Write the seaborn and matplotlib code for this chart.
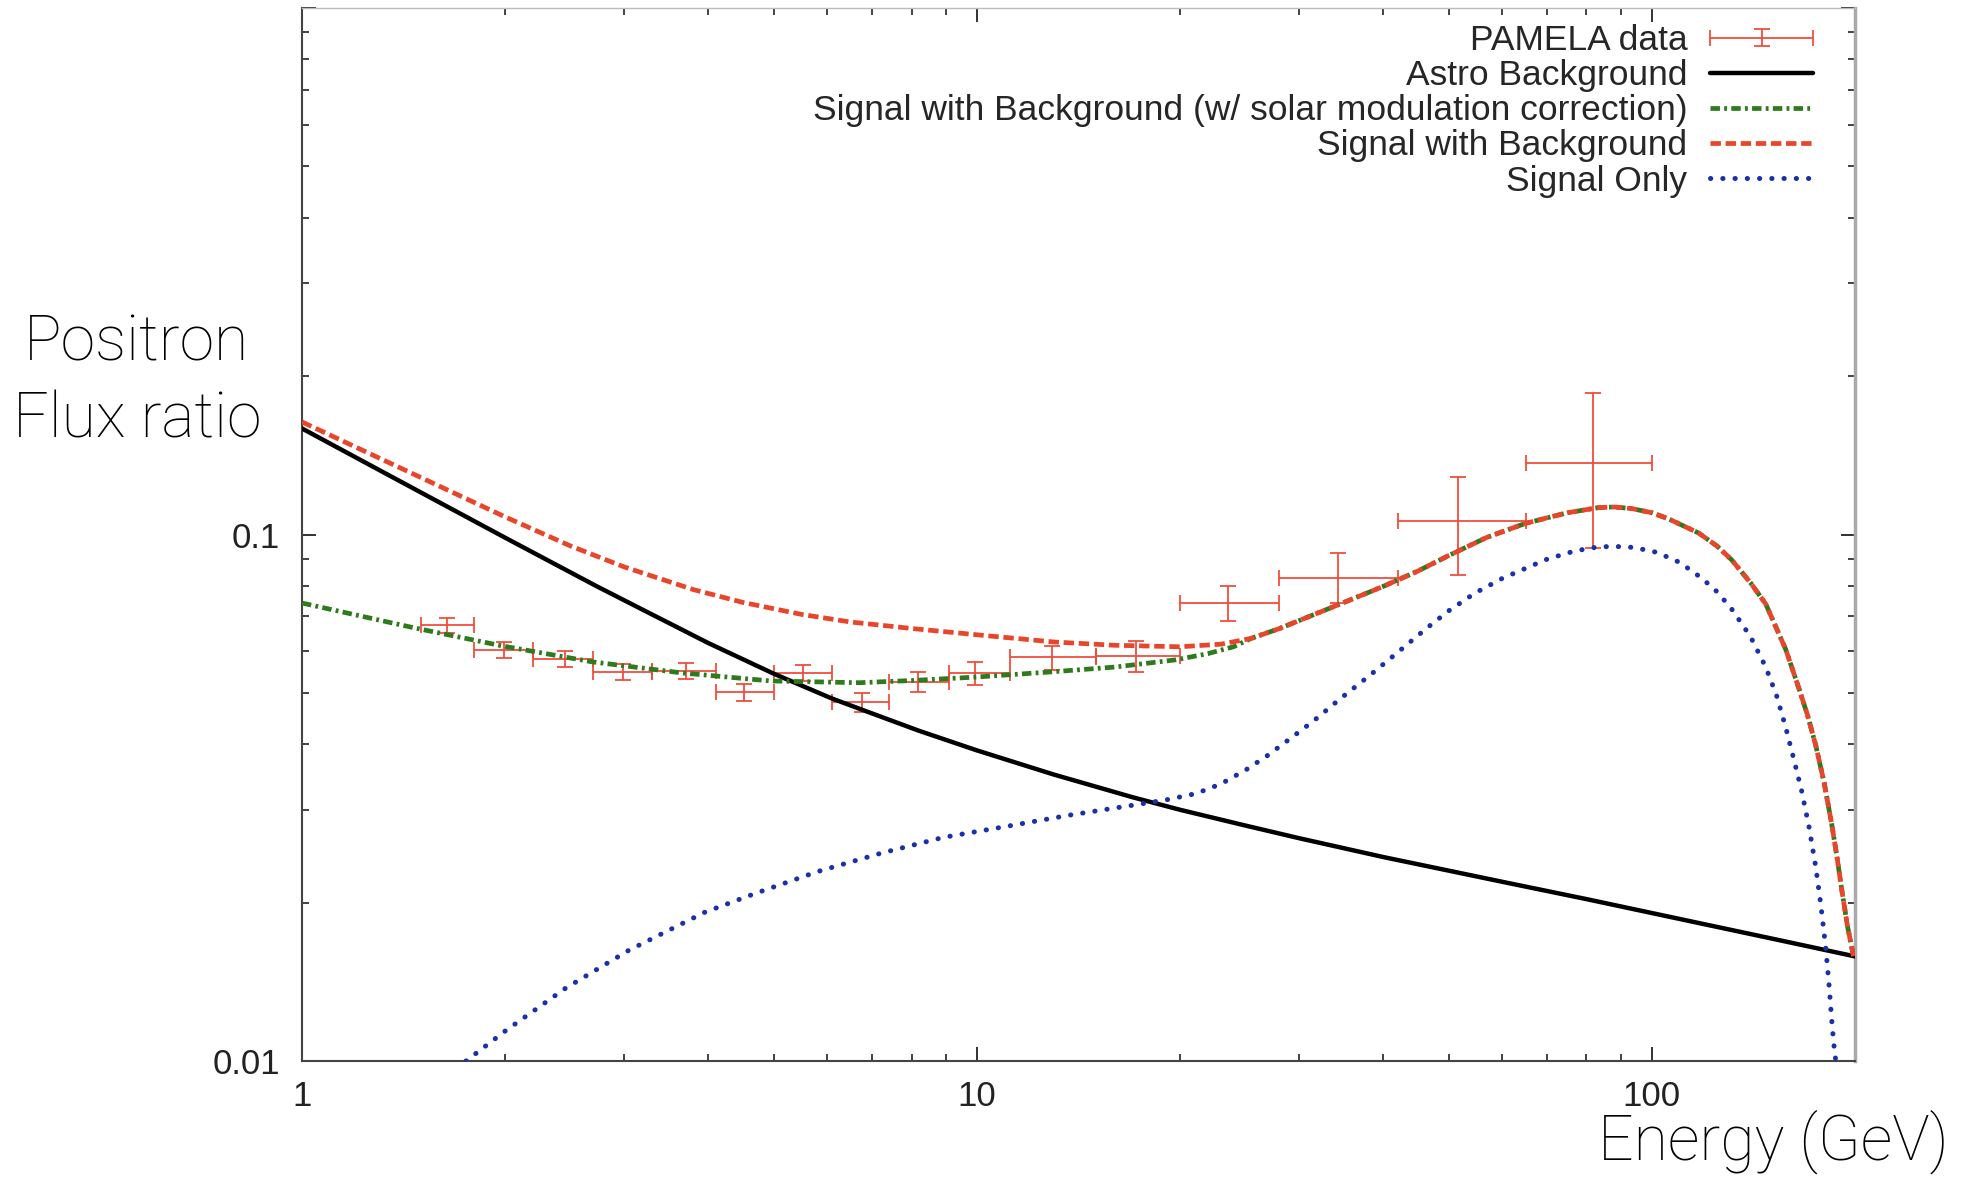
import numpy as np
import pandas as pd
import matplotlib.pyplot as plt
import seaborn as sns
from matplotlib.legend_handler import HandlerErrorbar

sns.set_theme(style="ticks")
plt.rcParams['font.family'] = ['Liberation Sans', 'DejaVu Sans']

# PAMELA positron fraction data (bin edges, value, asymmetric errors)
pamela_e = [1.64, 1.99, 2.45, 2.99, 3.71, 4.51, 5.52, 6.75, 8.17, 9.94,
            12.93, 17.19, 23.53, 34.31, 51.62, 81.89]
pamela_lo = [1.5, 1.8, 2.2, 2.7, 3.3, 4.1, 5.0, 6.1, 7.4, 9.1,
             11.2, 15.0, 20.0, 28.0, 42.0, 65.0]
pamela_hi = [1.8, 2.2, 2.7, 3.3, 4.1, 5.0, 6.1, 7.4, 9.1, 11.2,
             15.0, 20.0, 28.0, 42.0, 65.0, 100.0]
pamela_ratio = [0.0673, 0.0604, 0.0580, 0.0548, 0.0550, 0.0502, 0.0545, 0.0481,
                0.0525, 0.0545, 0.0584, 0.0589, 0.0741, 0.0826, 0.1061, 0.1367]
pamela_err_down = [0.0022, 0.0021, 0.0020, 0.0019, 0.0019, 0.0019, 0.0019, 0.0020,
                   0.0023, 0.0027, 0.0031, 0.0040, 0.0055, 0.0085, 0.0224, 0.0426]
pamela_err_up = [0.0022, 0.0021, 0.0020, 0.0019, 0.0019, 0.0019, 0.0019, 0.0020,
                 0.0023, 0.0027, 0.0031, 0.0040, 0.0059, 0.0097, 0.0227, 0.0492]

# astrophysical background
bg_e = [1, 1.25, 1.5, 2, 2.73, 3.3, 4, 5, 6.1, 7, 8.2, 10, 13, 17, 20, 25, 30, 40,
        60, 80, 100, 150, 200]
bg_ratio = [0.159, 0.1363, 0.1202, 0.0986, 0.0798, 0.0705, 0.0622, 0.0544, 0.0488,
            0.0457, 0.0424, 0.0389, 0.0350, 0.0317, 0.0300, 0.0280, 0.0265, 0.0244,
            0.0219, 0.0203, 0.0191, 0.0171, 0.0158]

# signal + background
sb_e = [1, 1.25, 1.5, 2, 2.5, 3, 3.8, 4.5, 5.5, 6.5, 8, 10, 13, 16, 20, 23, 25.5,
        28, 34, 40, 45, 50, 57, 65, 75, 83.5, 88, 93.4, 100, 106, 117.4, 125, 131.3,
        140, 147.5, 157.9, 165, 170, 174.9, 180, 184.7, 188, 191.1, 195, 199]
sb_ratio = [0.1636, 0.1431, 0.1283, 0.1080, 0.0951, 0.0868, 0.0786, 0.0743, 0.0705,
            0.0682, 0.0663, 0.0645, 0.0625, 0.0616, 0.0612, 0.0619, 0.0635, 0.0662,
            0.0732, 0.0797, 0.0852, 0.0912, 0.0988, 0.1050, 0.1100, 0.1125, 0.1128,
            0.1120, 0.1100, 0.1070, 0.1006, 0.0950, 0.0895, 0.0810, 0.0738, 0.0605,
            0.0512, 0.0455, 0.0398, 0.0338, 0.0282, 0.0245, 0.0212, 0.0180, 0.0158]

# signal + background with solar modulation correction (joins the curve above near 25 GeV)
sbm_e = [1, 1.465, 1.984, 2.69, 3.65, 4.95, 6.70, 8, 9.95, 12.8, 16, 19.7, 22, 24]
sbm_ratio = [0.0741, 0.0665, 0.0614, 0.0573, 0.0546, 0.0527, 0.0523, 0.0528, 0.0536,
             0.0548, 0.0560, 0.0578, 0.0594, 0.0612]

# signal only
sig_e = [1.75, 2.0, 2.46, 3.05, 3.95, 4.69, 5.81, 7.2, 8.93, 11.06, 13.7, 17.0, 19,
         21.1, 23, 25.1, 27, 29, 31.5, 34.5, 38.2, 42, 46.4, 50, 54.7, 60, 64.4, 70,
         75.9, 81, 87.2, 94, 101.7, 110, 118.6, 125, 131.3, 140, 147.5, 153, 157.9,
         162, 166.7, 171, 174.9, 178, 181, 183, 184.7, 186, 187.3, 188]
sig_ratio = [0.0100, 0.0114, 0.01376, 0.01623, 0.01916, 0.0208, 0.0229, 0.0248,
             0.0266, 0.0279, 0.0293, 0.0306, 0.0313, 0.0322, 0.0336, 0.0358, 0.0381,
             0.0408, 0.0442, 0.0487, 0.0540, 0.0597, 0.0664, 0.0716, 0.0774, 0.0825,
             0.0858, 0.0898, 0.0926, 0.0943, 0.0950, 0.0945, 0.0925, 0.0885, 0.0826,
             0.0778, 0.0722, 0.0640, 0.0560, 0.0495, 0.0430, 0.0378, 0.0326, 0.0278,
             0.0234, 0.0198, 0.0164, 0.0140, 0.0120, 0.0108, 0.0100, 0.0094]

# the corrected curve follows the uncorrected one above ~25 GeV
mod_df = pd.DataFrame({
    'E': sbm_e + [e for e in sb_e if e > 25],
    'ratio': sbm_ratio + [r for e, r in zip(sb_e, sb_ratio) if e > 25],
})

fig = plt.figure(figsize=(19.74, 11.78), dpi=100)
ax = fig.add_axes([302 / 1974, 1 - 1061 / 1178, (1855 - 302) / 1974, (1061 - 8) / 1178])
ax.set_xscale('log')
ax.set_yscale('log')

data_color = '#ee4a38'
eb = ax.errorbar(pamela_e, pamela_ratio,
                 xerr=[np.subtract(pamela_e, pamela_lo), np.subtract(pamela_hi, pamela_e)],
                 yerr=[pamela_err_down, pamela_err_up],
                 fmt='none', ecolor=data_color, elinewidth=1.4, capsize=6,
                 capthick=1.4, alpha=0.9, zorder=2)

sns.lineplot(x=bg_e, y=bg_ratio, ax=ax, color='black', lw=3.2,
             errorbar=None, sort=False, zorder=3)
h_bg = ax.lines[-1]
sns.lineplot(data=mod_df, x='E', y='ratio', ax=ax, color='#2e7a1c', lw=3.4,
             dashes=[2.0, 0.9, 0.6, 0.9], errorbar=None, sort=False, zorder=4)
h_mod = ax.lines[-1]
sns.lineplot(x=sb_e, y=sb_ratio, ax=ax, color='#e8452a', lw=3.4,
             dashes=[2.2, 1.0], errorbar=None, sort=False, zorder=5)
h_sb = ax.lines[-1]
sns.lineplot(x=sig_e, y=sig_ratio, ax=ax, color='#1a2fa8', lw=3.6,
             dashes=[0.05, 2.4], dash_capstyle='round', errorbar=None, sort=False,
             zorder=4)
h_sig = ax.lines[-1]

ax.set_xlim(1, 200)
ax.set_ylim(0.01, 1)
ax.set_xticks([1, 10, 100])
ax.set_xticklabels(['1', '10', '100'])
ax.set_yticks([0.01, 0.1, 1])
ax.set_yticklabels(['0.01', '0.1', ''])
ax.tick_params(which='both', direction='in', top=True, right=True, colors='#222222',
               labelsize=25)
ax.tick_params(which='major', length=10, width=1.3)
ax.tick_params(which='minor', length=5, width=1.2)
ax.tick_params(axis='x', pad=14)
ax.tick_params(axis='y', pad=16)
ax.set_xlabel('')
ax.set_ylabel('')
ax.grid(False)

for side in ['left', 'bottom']:
    ax.spines[side].set_color('#444444')
    ax.spines[side].set_linewidth(1.5)
ax.spines['right'].set_color('#aaaaaa')
ax.spines['right'].set_linewidth(2.5)
ax.spines['top'].set_color('#bbbbbb')
ax.spines['top'].set_linewidth(1.0)

leg = ax.legend([eb, h_bg, h_mod, h_sb, h_sig],
                ['PAMELA data', 'Astro Background',
                 'Signal with Background (w/ solar modulation correction)',
                 'Signal with Background', 'Signal Only'],
                handler_map={eb: HandlerErrorbar(xerr_size=1.45, yerr_size=0.25)},
                loc='upper right', bbox_to_anchor=(1813 / 1974, 1 - 24 / 1178),
                bbox_transform=fig.transFigure, frameon=False, markerfirst=False,
                fontsize=25.5, handlelength=2.9, handletextpad=0.65,
                labelspacing=0.06, borderpad=0, borderaxespad=0)

label_font = dict(family=['Roboto', 'DejaVu Sans'], weight='light', size=45, color='black')
fig.text(137 / 1974, 1 - 361 / 1178, 'Positron', ha='center', va='baseline', **label_font)
fig.text(137 / 1974, 1 - 437 / 1178, 'Flux ratio', ha='center', va='baseline', **label_font)
fig.text(1949 / 1974, 1 - 1160 / 1178, 'Energy (GeV)', ha='right', va='baseline', **label_font)

fig.savefig('out.png', dpi=100)
